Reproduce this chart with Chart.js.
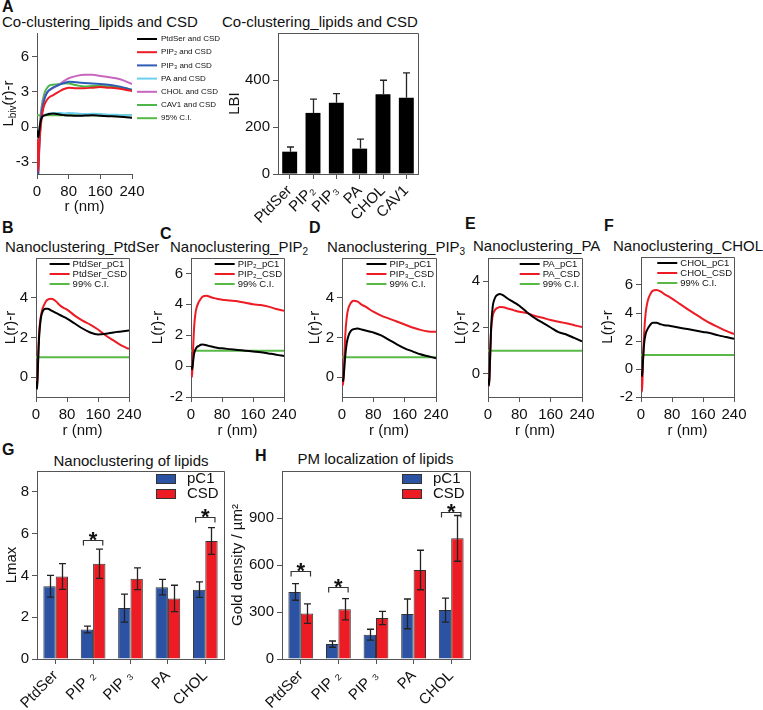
<!DOCTYPE html>
<html>
<head>
<meta charset="utf-8">
<script src="https://cdn.jsdelivr.net/npm/chart.js@4.4.1/dist/chart.umd.min.js"></script>
<style>
  body { margin: 0; width: 763px; height: 710px; position: relative; overflow: hidden; background: #fff;
         font-family: "Liberation Sans", Arial, Helvetica, sans-serif; color: #111; }
  canvas { position: absolute; }
  .t { position: absolute; font-size: 15px; line-height: 18px; white-space: nowrap; }
  .p { position: absolute; font-size: 16px; line-height: 16px; font-weight: bold; }
  sub { font-size: 10px; vertical-align: -3px; line-height: 0; }
</style>
</head>
<body>
<div class="p" style="left:2px;top:-1px">A</div>
<div class="t" style="left:2px;top:13px">Co-clustering_lipids and CSD</div>
<div class="t" style="left:222px;top:13px">Co-clustering_lipids and CSD</div>
<div class="p" style="left:2px;top:220px">B</div>
<div class="t" style="left:5px;top:238px">Nanoclustering_PtdSer</div>
<div class="p" style="left:160px;top:226px">C</div>
<div class="t" style="left:170px;top:238px">Nanoclustering_PIP<sub>2</sub></div>
<div class="p" style="left:309px;top:220px">D</div>
<div class="t" style="left:327px;top:238px">Nanoclustering_PIP<sub>3</sub></div>
<div class="p" style="left:465px;top:216px">E</div>
<div class="t" style="left:473px;top:237px">Nanoclustering_PA</div>
<div class="p" style="left:604px;top:218px">F</div>
<div class="t" style="left:613px;top:237px">Nanoclustering_CHOL</div>
<div class="p" style="left:2px;top:442px">G</div>
<div class="t" style="left:0px;width:262px;text-align:center;top:452px">Nanoclustering of lipids</div>
<div class="p" style="left:255px;top:448px">H</div>
<div class="t" style="left:275px;width:201px;text-align:center;top:450px">PM localization of lipids</div>

<script>
// ---- data ----
const R = [1, 3, 5, 8, 12, 16, 20, 25, 30, 40, 50, 60, 70, 80, 100, 120, 140, 160, 180, 200, 220, 240];
const ciR = [0, 240];
const ci = [1, 1];
const rTicks = [0, 80, 160, 240];

// A, co-clustering curves
const aPtdSer = [-0.3, -0.9, -0.5, 0.3, 0.8, 0.95, 1.0, 1.05, 1.1, 1.15, 1.1, 1.05, 1.0, 0.98, 0.95, 0.97, 1.0, 0.95, 0.92, 0.9, 0.85, 0.78];
const aPIP2 = [-1, -3.8, -2.2, -0.5, 0.8, 1.6, 2.0, 2.3, 2.5, 2.7, 2.9, 3.1, 3.25, 3.35, 3.3, 3.3, 3.35, 3.4, 3.35, 3.3, 3.2, 3.05];
const aPIP3 = [-1.5, -4.5, -2.5, -0.3, 1.3, 2.0, 2.5, 2.9, 3.1, 3.35, 3.5, 3.65, 3.75, 3.85, 3.8, 3.75, 3.7, 3.65, 3.6, 3.5, 3.35, 3.15];
const aPA = [-0.5, -1.2, -0.6, 0.3, 0.85, 1.0, 1.05, 1.1, 1.15, 1.15, 1.2, 1.2, 1.15, 1.2, 1.15, 1.1, 1.12, 1.1, 1.05, 1.05, 1.0, 1.0];
const aCHOL = [-1, -2.5, -1.5, 0.2, 1.5, 2.2, 2.6, 2.9, 3.1, 3.3, 3.5, 3.7, 3.95, 4.15, 4.35, 4.45, 4.45, 4.35, 4.25, 4.15, 3.95, 3.65];
const aCAV1 = [-1, -2.5, -1.2, 0.5, 1.8, 2.5, 3.0, 3.3, 3.5, 3.6, 3.62, 3.68, 3.72, 3.7, 3.55, 3.45, 3.48, 3.5, 3.45, 3.38, 3.3, 3.18];
const aTicks = [-3, 0, 3, 6];

// A, LBI bars
const lbiCats = ['PtdSer', 'PIP₂', 'PIP₃', 'PA', 'CHOL', 'CAV1'];
const lbi = [95, 260, 303, 108, 339, 325];
const lbiErr = [20, 59, 39, 40, 60, 105];
const lbiTicks = [0, 200, 400];

// B-F nanoclustering curves
const bPC1 = [-0.2, -0.6, 0.5, 2.0, 2.9, 3.25, 3.4, 3.45, 3.45, 3.35, 3.25, 3.15, 3.05, 2.95, 2.7, 2.45, 2.25, 2.15, 2.18, 2.25, 2.3, 2.35];
const bCSD = [-0.1, -0.4, 0.8, 2.2, 3.0, 3.4, 3.6, 3.8, 3.9, 3.95, 3.85, 3.65, 3.5, 3.4, 3.1, 2.85, 2.65, 2.4, 2.1, 1.85, 1.6, 1.42];
const cPC1 = [0, -0.2, 0.2, 0.8, 1.1, 1.25, 1.3, 1.38, 1.4, 1.35, 1.28, 1.22, 1.18, 1.15, 1.1, 1.05, 1.0, 0.95, 0.9, 0.82, 0.74, 0.65];
const cCSD = [-0.2, -0.7, 0.8, 2.5, 3.5, 3.9, 4.15, 4.35, 4.5, 4.55, 4.48, 4.4, 4.35, 4.3, 4.25, 4.2, 4.1, 4.0, 3.95, 3.85, 3.7, 3.58];
const dPC1 = [-0.1, -0.2, 0.2, 1.0, 1.7, 2.05, 2.25, 2.38, 2.42, 2.45, 2.4, 2.35, 2.3, 2.25, 2.1, 1.88, 1.65, 1.45, 1.3, 1.15, 1.05, 0.95];
const dCSD = [-0.2, -0.4, 0.5, 2.0, 3.0, 3.45, 3.65, 3.8, 3.85, 3.8, 3.65, 3.55, 3.42, 3.3, 3.1, 2.95, 2.8, 2.65, 2.5, 2.38, 2.3, 2.28];
const ePC1 = [-0.2, -0.5, 0.5, 2.0, 2.9, 3.2, 3.35, 3.42, 3.45, 3.38, 3.25, 3.15, 3.05, 2.94, 2.65, 2.4, 2.2, 2.0, 1.8, 1.7, 1.55, 1.4];
const eCSD = [-0.2, -0.5, 0.5, 1.9, 2.5, 2.7, 2.8, 2.85, 2.88, 2.87, 2.82, 2.78, 2.72, 2.68, 2.62, 2.5, 2.42, 2.32, 2.25, 2.18, 2.1, 2.02];
const fPC1 = [-0.2, -0.5, 0.5, 1.8, 2.5, 2.8, 3.0, 3.2, 3.3, 3.3, 3.2, 3.12, 3.1, 3.05, 2.95, 2.85, 2.75, 2.65, 2.55, 2.4, 2.28, 2.15];
const fCSD = [-0.5, -1.6, 0.5, 2.5, 4.0, 4.7, 5.1, 5.4, 5.58, 5.65, 5.55, 5.35, 5.2, 5.03, 4.65, 4.28, 3.92, 3.57, 3.25, 2.98, 2.72, 2.5];
const tick024 = [0, 2, 4];
const tickM2to6 = [-2, 0, 2, 4, 6];

// G, H bars
const lipidCats = ['PtdSer', 'PIP ₂', 'PIP ₃', 'PA', 'CHOL'];
const lmaxPC1 = [3.48, 1.41, 2.44, 3.44, 3.32];
const lmaxPC1Err = [0.52, 0.16, 0.67, 0.37, 0.37];
const lmaxCSD = [3.95, 4.56, 3.84, 2.9, 5.65];
const lmaxCSDErr = [0.62, 0.7, 0.52, 0.63, 0.64];
const lmaxSig = [[1, 5.7], [4, 6.8]];
const lmaxTicks = [0, 2, 4, 6, 8];
const goldPC1 = [428, 95, 155, 288, 312];
const goldPC1Err = [53, 20, 35, 95, 77];
const goldCSD = [290, 318, 262, 568, 770];
const goldCSDErr = [62, 68, 42, 126, 146];
const goldSig = [[0, 562], [1, 462], [4, 937]];
const goldTicks = [0, 300, 600, 900];

// ---- look ----
const AX = '#555';
const FONT = '"Liberation Sans", Arial, Helvetica, sans-serif';
const RED = '#ed1c24', BLUE = '#2c52a3', GREEN = '#58b947';
Chart.defaults.font.family = FONT;
Chart.defaults.font.size = 15;
Chart.defaults.color = '#111';
Chart.defaults.animation = false;
Chart.defaults.events = [];
Chart.defaults.plugins.legend.display = false;
Chart.defaults.plugins.tooltip.enabled = false;

// ---- small plugins ----
const frame = {
  id: 'frame',
  afterDatasetsDraw(chart, args, o) {
    if (!o.on) return;
    const { ctx, chartArea: c } = chart;
    ctx.save();
    ctx.strokeStyle = AX; ctx.lineWidth = 1;
    ctx.beginPath();
    ctx.moveTo(c.left, c.top + 0.5);
    ctx.lineTo(c.right + 0.5, c.top + 0.5);
    ctx.lineTo(c.right + 0.5, c.bottom);
    ctx.stroke();
    ctx.restore();
  }
};

const errBars = {
  id: 'errBars',
  afterDatasetsDraw(chart) {
    const { ctx } = chart, y = chart.scales.y;
    ctx.save();
    ctx.strokeStyle = '#222'; ctx.lineWidth = 1.3;
    chart.data.datasets.forEach((d, di) => {
      if (!d.err) return;
      chart.getDatasetMeta(di).data.forEach((bar, i) => {
        const v = d.data[i], e = d.err[i];
        const top = y.getPixelForValue(v + e);
        const bot = y.getPixelForValue(d.upOnly ? v : v - e);
        const x = Math.round(bar.x) + 0.5, cap = 3.5;
        ctx.beginPath();
        ctx.moveTo(x, top); ctx.lineTo(x, bot);
        ctx.moveTo(x - cap, top); ctx.lineTo(x + cap, top);
        if (!d.upOnly) { ctx.moveTo(x - cap, bot); ctx.lineTo(x + cap, bot); }
        ctx.stroke();
      });
    });
    ctx.restore();
  }
};

const sig = {
  id: 'sig',
  afterDraw(chart, args, o) {
    if (!o.marks) return;
    const { ctx } = chart, y = chart.scales.y;
    const m0 = chart.getDatasetMeta(0), m1 = chart.getDatasetMeta(1);
    ctx.save();
    ctx.strokeStyle = '#333'; ctx.lineWidth = 1.2; ctx.fillStyle = '#111';
    ctx.font = 'bold 22px ' + FONT; ctx.textAlign = 'center'; ctx.textBaseline = 'alphabetic';
    o.marks.forEach(([i, v]) => {
      const x0 = m0.data[i].x - 3.5, x1 = m1.data[i].x + 3.5;
      const py = Math.round(y.getPixelForValue(v)) + 0.5;
      ctx.beginPath();
      ctx.moveTo(x0, py + 5); ctx.lineTo(x0, py); ctx.lineTo(x1, py); ctx.lineTo(x1, py + 5);
      ctx.stroke();
      ctx.fillText('*', (x0 + x1) / 2, py + 6);
    });
    ctx.restore();
  }
};

const innerLegend = {
  id: 'innerLegend',
  afterDraw(chart, args, o) {
    if (!o.mode) return;
    const { ctx, chartArea: a } = chart;
    const sets = chart.data.datasets;
    ctx.save();
    ctx.font = o.size + 'px ' + FONT;
    ctx.textBaseline = 'middle'; ctx.textAlign = 'left';
    const maxW = Math.max(...sets.map(d => ctx.measureText(d.label).width));
    const tx = o.x != null ? a.right + o.x : a.right - o.right - maxW;
    sets.forEach((d, i) => {
      const y = a.top + o.top + i * o.gap;
      if (o.mode === 'line') {
        ctx.strokeStyle = d.borderColor; ctx.lineWidth = 2;
        ctx.beginPath(); ctx.moveTo(tx - o.sep - o.len, y); ctx.lineTo(tx - o.sep, y); ctx.stroke();
      } else {
        ctx.fillStyle = d.backgroundColor; ctx.strokeStyle = '#333'; ctx.lineWidth = 1;
        ctx.fillRect(tx - o.sep - o.len, y - 5, o.len, 10);
        ctx.strokeRect(tx - o.sep - o.len + 0.5, y - 4.5, o.len - 1, 9);
      }
      ctx.fillStyle = '#111';
      ctx.fillText(d.label, tx, y);
    });
    ctx.restore();
  }
};

const richYTitle = {
  id: 'richYTitle',
  afterDraw(chart, args, o) {
    if (!o.parts) return;
    const { ctx, chartArea: a } = chart;
    ctx.save();
    ctx.fillStyle = '#111'; ctx.textBaseline = 'middle'; ctx.textAlign = 'left';
    let total = 0;
    o.parts.forEach(p => { ctx.font = p[1] + 'px ' + FONT; total += ctx.measureText(p[0]).width; });
    ctx.translate(o.x, (a.top + a.bottom) / 2);
    ctx.rotate(-Math.PI / 2);
    let x = -total / 2;
    o.parts.forEach(p => {
      ctx.font = p[1] + 'px ' + FONT;
      ctx.fillText(p[0], x, p[2]);
      x += ctx.measureText(p[0]).width;
    });
    ctx.restore();
  }
};

Chart.register(frame, errBars, sig, innerLegend, richYTitle);

// ---- helpers ----
function zero(s) { s.paddingLeft = s.paddingRight = s.paddingTop = s.paddingBottom = 0; }

function makeCanvas(area, yw, xh, padT, padR) {
  const c = document.createElement('canvas');
  c.width = area.r - area.l + yw + padR;
  c.height = area.b - area.t + padT + xh;
  c.style.left = (area.l - yw) + 'px';
  c.style.top = (area.t - padT) + 'px';
  document.body.appendChild(c);
  return c;
}

function yAxis(min, max, ticks, yw, title) {
  return {
    type: 'linear', min, max,
    afterBuildTicks: s => { s.ticks = ticks.map(v => ({ value: v })); },
    afterFit: s => { s.width = yw; zero(s); },
    ticks: { padding: 3 },
    grid: { drawOnChartArea: false, tickLength: 5, color: AX },
    border: { color: AX },
    title: { display: !!title, text: title, padding: 0 }
  };
}

function rAxis(xh) {
  return {
    type: 'linear', min: 0, max: 240,
    afterBuildTicks: s => { s.ticks = rTicks.map(v => ({ value: v })); },
    afterFit: s => { s.height = xh; zero(s); },
    ticks: { padding: 4, maxRotation: 0 },
    grid: { drawOnChartArea: false, tickLength: 5, color: AX },
    border: { color: AX },
    title: { display: true, text: 'r (nm)', padding: 0 }
  };
}

function catAxis(xh) {
  return {
    type: 'category',
    afterFit: s => { s.height = xh; zero(s); },
    ticks: { minRotation: 45, maxRotation: 45, autoSkip: false, padding: 3 },
    grid: { drawOnChartArea: false, offset: false, tickLength: 5, color: AX },
    border: { color: AX }
  };
}

function curve(label, xs, ys, color) {
  return {
    label, borderColor: color, borderWidth: 2, pointRadius: 0,
    cubicInterpolationMode: 'monotone',
    data: xs.map((x, i) => ({ x, y: ys[i] }))
  };
}

// ---- A: co-clustering curves ----
{
  const area = { l: 37, t: 33, r: 132, b: 174 };
  const xh = 42, padR = 90;
  new Chart(makeCanvas(area, 37, xh, 10, padR), {
    type: 'line',
    data: { datasets: [
      curve('PtdSer and CSD', R, aPtdSer, '#000'),
      curve('PIP₂ and CSD', R, aPIP2, RED),
      curve('PIP₃ and CSD', R, aPIP3, '#2f5cb5'),
      curve('PA and CSD', R, aPA, '#6ccfee'),
      curve('CHOL and CSD', R, aCHOL, '#c866c0'),
      curve('CAV1 and CSD', R, aCAV1, '#4cb748'),
      curve('95% C.I.', ciR, ci, GREEN)
    ] },
    options: {
      responsive: false,
      layout: { padding: { top: 10, right: padR } },
      scales: { x: rAxis(xh), y: yAxis(-4, 8, aTicks, 37, '') },
      plugins: {
        innerLegend: { mode: 'line', size: 8, x: 29, top: 6, gap: 13.2, len: 20, sep: 4 },
        richYTitle: { x: 9, parts: [['L', 15, 0], ['biv', 10, 4], ['(r)-r', 15, 0]] }
      }
    }
  });
}

// ---- A: LBI bars ----
{
  const area = { l: 278, t: 33, r: 418, b: 174 };
  const yw = 52, xh = 50;
  new Chart(makeCanvas(area, yw, xh, 10, 4), {
    type: 'bar',
    data: { labels: lbiCats, datasets: [{
      label: 'LBI', data: lbi, err: lbiErr, upOnly: true,
      backgroundColor: '#000', categoryPercentage: 0.64, barPercentage: 1
    }] },
    options: {
      responsive: false,
      layout: { padding: { top: 10, right: 4 } },
      scales: { x: catAxis(xh), y: yAxis(0, 600, lbiTicks, yw, 'LBI') },
      plugins: { frame: { on: true } }
    }
  });
}

// ---- B-F: nanoclustering curves ----
const rowLegend = { mode: 'line', size: 9.5, right: 2, top: 6, gap: 10, len: 20, sep: 3 };
const rowPanels = [
  { area: { l: 36, t: 258, r: 129, b: 397 }, yw: 34, min: -1, max: 6, ticks: tick024, name: 'PtdSer', pc1: bPC1, csd: bCSD },
  { area: { l: 191, t: 258, r: 284, b: 397 }, yw: 42, min: -2, max: 7, ticks: tickM2to6, name: 'PIP₂', pc1: cPC1, csd: cCSD },
  { area: { l: 342, t: 258, r: 436, b: 397 }, yw: 36, min: -1, max: 6, ticks: tick024, name: 'PIP₃', pc1: dPC1, csd: dCSD },
  { area: { l: 488, t: 258, r: 582, b: 397 }, yw: 36, min: -1, max: 5, ticks: tick024, name: 'PA', pc1: ePC1, csd: eCSD },
  { area: { l: 641, t: 257, r: 734, b: 397 }, yw: 42, min: -2, max: 8, ticks: tickM2to6, name: 'CHOL', pc1: fPC1, csd: fCSD }
];
rowPanels.forEach(p => {
  const xh = 43;
  new Chart(makeCanvas(p.area, p.yw, xh, 10, 16), {
    type: 'line',
    data: { datasets: [
      curve(p.name + '_pC1', R, p.pc1, '#000'),
      curve(p.name + '_CSD', R, p.csd, RED),
      curve('99% C.I.', ciR, ci, GREEN)
    ] },
    options: {
      responsive: false,
      layout: { padding: { top: 10, right: 16 } },
      scales: { x: rAxis(xh), y: yAxis(p.min, p.max, p.ticks, p.yw, 'L(r)-r') },
      plugins: { frame: { on: true }, innerLegend: rowLegend }
    }
  });
});

// ---- G, H: grouped bars ----
function groupBars(area, yw, max, ticks, title, pc1, pc1Err, csd, csdErr, marks) {
  const xh = 51;
  new Chart(makeCanvas(area, yw, xh, 10, 4), {
    type: 'bar',
    data: { labels: lipidCats, datasets: [
      { label: 'pC1', data: pc1, err: pc1Err, backgroundColor: BLUE, borderColor: '#333', borderWidth: 1,
        categoryPercentage: 0.66, barPercentage: 1 },
      { label: 'CSD', data: csd, err: csdErr, backgroundColor: RED, borderColor: '#333', borderWidth: 1,
        categoryPercentage: 0.66, barPercentage: 1 }
    ] },
    options: {
      responsive: false,
      layout: { padding: { top: 10, right: 4 } },
      scales: { x: catAxis(xh), y: yAxis(0, max, ticks, yw, title) },
      plugins: {
        frame: { on: true },
        sig: { marks },
        innerLegend: { mode: 'box', size: 15, x: -37, top: 8, gap: 15, len: 20, sep: 11 }
      }
    }
  });
}
groupBars({ l: 37, t: 471, r: 224, b: 659 }, 34, 9, lmaxTicks, 'Lmax',
  lmaxPC1, lmaxPC1Err, lmaxCSD, lmaxCSDErr, lmaxSig);
groupBars({ l: 282, t: 471, r: 470, b: 659 }, 53, 1200, goldTicks, 'Gold density / µm²',
  goldPC1, goldPC1Err, goldCSD, goldCSDErr, goldSig);
</script>
</body>
</html>
